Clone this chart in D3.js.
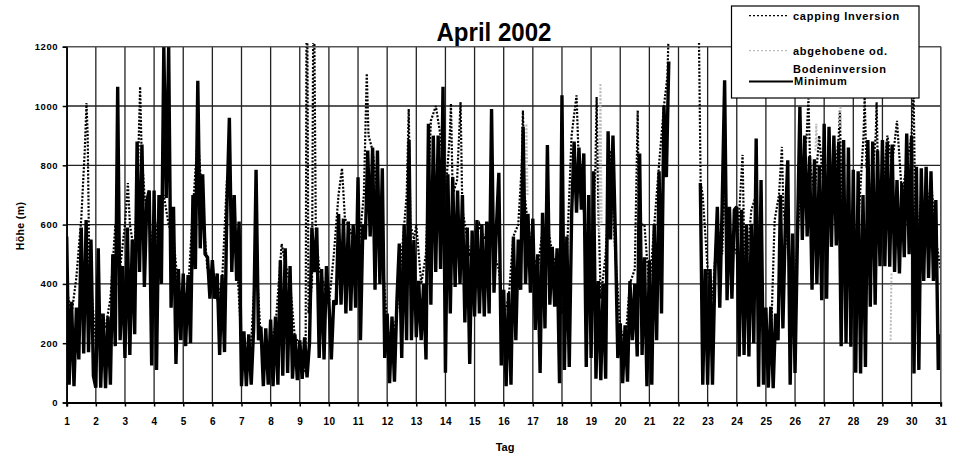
<!DOCTYPE html>
<html><head><meta charset="utf-8">
<script src="https://cdn.jsdelivr.net/npm/d3@7"></script>
<style>
body{margin:0;background:#fff}
svg{display:block}
text{font-family:"Liberation Sans",Arial,sans-serif;font-weight:bold;fill:#000}
</style>
</head><body><svg id="c" width="957" height="456"></svg>
<script>
const chartTitle = "April 2002";
const xTitle = "Tag";
const yTitle = "Höhe (m)";
const dayTicks = [1,2,3,4,5,6,7,8,9,10,11,12,13,14,15,16,17,18,19,20,21,22,23,24,25,26,27,28,29,30,31];
const heightTicks = [0,200,400,600,800,1000,1200];
const legendLabels = ["capping Inversion", "abgehobene od.", "Bodeninversion", "Minimum"];

// Minimum: 2-hourly values (12 per day), day 1 00h .. day 31 00h
const minimumStepsPerDay = 12;
const minimumValues = [
 560, 60, 340, 55, 320, 145, 590, 165, 615, 170, 550, 90,
 50, 520, 50, 300, 48, 290, 60, 500, 190, 1065, 210, 460,
 150, 590, 160, 550, 230, 880, 440, 870, 390, 680, 715, 125,
 715, 110, 700, 400, 1200, 690, 1200, 320, 660, 130, 450, 210,
 435, 190, 430, 200, 700, 450, 1085, 520, 770, 500, 490, 350,
 480, 350, 435, 160, 430, 170, 660, 960, 440, 700, 410, 610,
 55, 240, 55, 230, 60, 250, 785, 210, 255, 55, 250, 60,
 280, 55, 290, 60, 480, 90, 520, 100, 460, 80, 230, 75,
 210, 80, 220, 85, 200, 590, 440, 590, 150, 450, 145, 460,
 340, 145, 345, 330, 636, 330, 620, 300, 610, 310, 600, 320,
 760, 210, 600, 550, 850, 560, 860, 380, 850, 400, 790, 150,
 300, 65, 290, 70, 340, 536, 150, 600, 210, 885, 210, 548,
 220, 410, 210, 400, 145, 940, 330, 900, 440, 900, 450, 1065,
 100, 770, 300, 760, 390, 715, 400, 700, 270, 590, 130, 580,
 290, 615, 300, 600, 290, 610, 300, 990, 370, 590, 775, 125,
 380, 55, 370, 60, 560, 210, 550, 380, 930, 400, 636, 370,
 620, 245, 500, 100, 640, 250, 868, 330, 525, 323, 520, 65,
 1036, 110, 560, 120, 640, 880, 640, 860, 650, 840, 120, 700,
 150, 780, 80, 410, 75, 400, 80, 915, 550, 900, 560, 150,
 267, 65, 260, 70, 410, 210, 400, 155, 840, 160, 490, 55,
 480, 60, 600, 210, 780, 300, 1000, 760, 1150, null, null, null,
 null, null, null, null, null, null, null, null, null, 740, 60, 450,
 60, 450, 60, 440, 660, 320, 670, 1087, 345, 660, 350, 650,
 660, 155, 650, 160, 600, 155, 603, 200, 890, 53, 750, 60,
 320, 50, 323, 48, 300, 210, 700, 250, 600, 817, 60, 570,
 100, 560, 997, 548, 900, 560, 830, 380, 820, 400, 800, 345,
 940, 350, 930, 525, 900, 530, 880, 190, 885, 200, 860, 188,
 785, 100, 780, 98, 700, 120, 885, 323, 880, 330, 850, 460,
 885, 460, 880, 458, 870, 440, 750, 435, 740, 490, 907, 500,
 900, 98, 795, 110, 790, 410, 795, 420, 780, 410, 683, 110,
 230
];

// capping Inversion: (day, height) readings; null = gap
const cappingDays = [
 1.00, 1.17, 1.33, 1.50, 1.62, 1.68, 1.72, 1.78, 1.83,
 2.00, 2.17, 2.33, 2.50, 2.67, 2.83,
 3.00, 3.10, 3.17, 3.33, 3.45, 3.52, 3.57, 3.67, 3.83,
 4.00, 4.17, 4.33, 4.50, 4.67, 4.83,
 5.00, 5.17, 5.33, 5.50, 5.67, 5.83,
 6.00, 6.17, 6.33, 6.50, 6.67, 6.83,
 7.00, 7.17, 7.33, 7.50, 7.67, 7.83,
 8.00, 8.17, 8.38, 8.50, 8.67, 8.83,
 9.00, 9.20, 9.23, 9.26, 9.30, 9.42, 9.46, 9.50, 9.55, 9.67, 9.83,
 10.00, 10.17, 10.33, 10.45, 10.55, 10.67, 10.83,
 11.00, 11.20, 11.30, 11.36, 11.50, 11.67, 11.83,
 12.00, 12.17, 12.33, 12.50, 12.67, 12.74, 12.80, 12.92,
 13.00, 13.17, 13.33, 13.50, 13.67, 13.83,
 14.00, 14.15, 14.19, 14.25, 14.40, 14.52, 14.58, 14.67, 14.83,
 15.00, 15.17, 15.33, 15.50, 15.67, 15.83,
 16.00, 16.17, 16.33, 16.50, 16.62, 16.66, 16.72, 16.83,
 17.00, 17.17, 17.33, 17.50, 17.67, 17.83,
 18.00, 18.17, 18.33, 18.50, 18.58, 18.67, 18.83,
 19.00, 19.15, 19.19, 19.24, 19.33, 19.50, 19.67, 19.83,
 20.00, 20.17, 20.33, 20.50, 20.60, 20.64, 20.83,
 21.00, 21.17, 21.33, 21.50, 21.62, 21.66, null,
 22.70, 22.76, 22.83,
 23.00, 23.17, 23.33, 23.50, 23.60, 23.65, 23.83,
 24.00, 24.20, 24.26, 24.33, 24.50, 24.67, 24.83,
 25.00, 25.17, 25.30, 25.45, 25.55, 25.60, 25.67, 25.83,
 26.00, 26.17, 26.40, 26.46, 26.52, 26.67, 26.83,
 27.00, 27.17, 27.33, 27.50, 27.54, 27.60, 27.83,
 28.00, 28.17, 28.35, 28.39, 28.45, 28.60, 28.77, 28.80, 28.86,
 29.00, 29.17, 29.33, 29.50, 29.67, 29.83,
 30.00, 30.07, 30.13, 30.17, 30.33, 30.50, 30.67, 30.83,
 31.00
];
const cappingValues = [
 380, 300, 420, 620, 850, 1010, 900, 420, 400,
 200, 300, 250, 350, 600, 450,
 600, 740, 600, 500, 800, 1065, 850, 700, 600,
 500, 650, 700, 600, 550, 380,
 350, 380, 650, 900, 650, 450,
 420, 350, 400, 750, 650, 500,
 200, 180, 200, 500, 200, 180,
 200, 260, 535, 470, 400, 220,
 200, 100, 1250, 1250, 300, 400, 1250, 1250, 580, 450, 400,
 330, 500, 700, 790, 620, 600, 550,
 500, 700, 1110, 900, 850, 700, 500,
 250, 200, 300, 500, 700, 990, 600, 550,
 600, 400, 500, 950, 1000, 900,
 700, 900, 1008, 700, 750, 1013, 650, 600, 500,
 520, 600, 550, 600, 500, 450,
 300, 350, 560, 600, 800, 985, 700, 600,
 500, 450, 580, 600, 500, 450,
 300, 500, 900, 1036, 800, 800, 500,
 400, 800, 1030, 700, 350, 500, 850, 500,
 250, 200, 400, 450, 985, 600, 600,
 380, 600, 800, 1000, 1100, 1250, null,
 1250, 740, 700,
 450, 350, 600, 500, 795, 550, 550,
 500, 835, 500, 450, 650, 700, 300,
 150, 200, 615, 700, 862, 650, 600, 450,
 400, 700, 900, 1025, 800, 700, 900,
 700, 800, 700, 900, 985, 650, 500,
 400, 600, 900, 1030, 800, 700, 900, 1013, 700,
 700, 900, 800, 950, 700, 800,
 900, 1053, 600, 500, 700, 600, 750, 550,
 450
];

// abgehobene od. Bodeninversion: few visible short pieces (null breaks)
const liftedDays   = [16.74, 16.78, 16.82, null, 19.28, 19.32, 19.36, null, 26.70, 26.73, 26.76, null, 27.53, 27.56, 27.58, null, 29.28, 29.31];
const liftedValues = [700,   940,   700,   null, 570,   1077,  600,   null, 850,   940,   860,   null, 930,   1000,  930,   null, 210,   435];

const svg = d3.select("#c");
const x = d3.scaleLinear().domain([1, 31]).range([66.7, 940.7]);
const y = d3.scaleLinear().domain([0, 1200]).range([402.5, 46.7]);

// grid
const grid = svg.append("g");
grid.selectAll("line.h").data(heightTicks.filter(d => d > 0)).join("line")
  .attr("x1", x(1)).attr("x2", x(31)).attr("y1", d => y(d)).attr("y2", d => y(d))
  .attr("stroke", "#222").attr("stroke-width", 1.3);
grid.selectAll("line.v").data(dayTicks).join("line")
  .attr("x1", d => x(d)).attr("x2", d => x(d)).attr("y1", y(0)).attr("y2", y(1200))
  .attr("stroke", "#222").attr("stroke-width", 1.3);

// clip
svg.append("clipPath").attr("id", "clip").append("rect")
  .attr("x", x(1)).attr("y", 43).attr("width", x(31) - x(1)).attr("height", y(0) - 43);

const plot = svg.append("g").attr("clip-path", "url(#clip)");

const capData = cappingDays.map((t, i) => ({t, v: cappingValues[i]}));
const minData = minimumValues.map((v, i) => ({t: 1 + i / minimumStepsPerDay, v}));
const liftData = liftedDays.map((t, i) => ({t, v: liftedValues[i]}));

const line = d3.line().defined(d => d.t != null && d.v != null).x(d => x(d.t)).y(d => y(d.v));

plot.append("path").datum(capData).attr("d", line)
  .attr("fill", "none").attr("stroke", "#000").attr("stroke-width", 2.2).attr("stroke-dasharray", "2,1.6");
plot.append("path").datum(liftData).attr("d", line)
  .attr("fill", "none").attr("stroke", "#bbb").attr("stroke-width", 2).attr("stroke-dasharray", "2,1.6");
plot.append("path").datum(minData).attr("d", line)
  .attr("fill", "none").attr("stroke", "#000").attr("stroke-width", 3.4).attr("stroke-linejoin", "bevel");

// axes
const xAxis = svg.append("g").attr("transform", `translate(0,${y(0)})`)
  .call(d3.axisBottom(x).tickValues(dayTicks).tickFormat(d3.format("d")).tickSize(4).tickPadding(11));
xAxis.select(".domain").attr("stroke", "#000").attr("stroke-width", 2);
xAxis.selectAll(".tick line").attr("stroke", "#000").attr("stroke-width", 1.5);
xAxis.selectAll("text").attr("font-size", 10).attr("letter-spacing", 0.4)
  .style("font-family", '"Liberation Sans",Arial,sans-serif').style("font-weight", "bold");

const yAxis = svg.append("g").attr("transform", `translate(${x(1)},0)`)
  .call(d3.axisLeft(y).tickValues(heightTicks).tickFormat(d3.format("d")).tickSize(4).tickPadding(4.5));
yAxis.select(".domain").attr("stroke", "#000").attr("stroke-width", 1.5);
yAxis.selectAll(".tick line").attr("stroke", "#000").attr("stroke-width", 1.5);
yAxis.selectAll("text").attr("font-size", 9.5).attr("letter-spacing", 0.6)
  .style("font-family", '"Liberation Sans",Arial,sans-serif').style("font-weight", "bold");

// frame top/right
svg.append("line").attr("x1", x(1)).attr("x2", x(31)).attr("y1", y(1200)).attr("y2", y(1200)).attr("stroke", "#555").attr("stroke-width", 1.3);
svg.append("line").attr("x1", x(31)).attr("x2", x(31)).attr("y1", y(1200)).attr("y2", y(0)).attr("stroke", "#555").attr("stroke-width", 1.3);

// titles
svg.append("text").attr("x", 494).attr("y", 40.5).attr("text-anchor", "middle")
  .attr("font-size", 25).attr("textLength", 115).attr("lengthAdjust", "spacingAndGlyphs").text(chartTitle);
svg.append("text").attr("x", 505).attr("y", 451).attr("text-anchor", "middle")
  .attr("font-size", 11).text(xTitle);
svg.append("text").attr("transform", "translate(24,226) rotate(-90)").attr("text-anchor", "middle")
  .attr("font-size", 10.5).attr("letter-spacing", 0.4).text(yTitle);

// legend
const lg = svg.append("g");
lg.append("rect").attr("x", 731.5).attr("y", 6).attr("width", 187.5).attr("height", 92)
  .attr("fill", "#fff").attr("stroke", "#000").attr("stroke-width", 1.2);
lg.append("line").attr("x1", 749).attr("x2", 788).attr("y1", 15.7).attr("y2", 15.7)
  .attr("stroke", "#000").attr("stroke-width", 1.3).attr("stroke-dasharray", "2,2");
lg.append("line").attr("x1", 749).attr("x2", 788).attr("y1", 50.7).attr("y2", 50.7)
  .attr("stroke", "#bbb").attr("stroke-width", 1.3).attr("stroke-dasharray", "2,2");
lg.append("line").attr("x1", 749).attr("x2", 793).attr("y1", 81.5).attr("y2", 81.5)
  .attr("stroke", "#000").attr("stroke-width", 2.2);
const legendPos = [[793, 19.8], [793, 54.8], [793, 73.2], [794, 85.2]];
legendLabels.forEach((t, i) => {
  lg.append("text").attr("x", legendPos[i][0]).attr("y", legendPos[i][1])
    .attr("font-size", 11).attr("letter-spacing", 0.75).text(t);
});
</script>
</body></html>
